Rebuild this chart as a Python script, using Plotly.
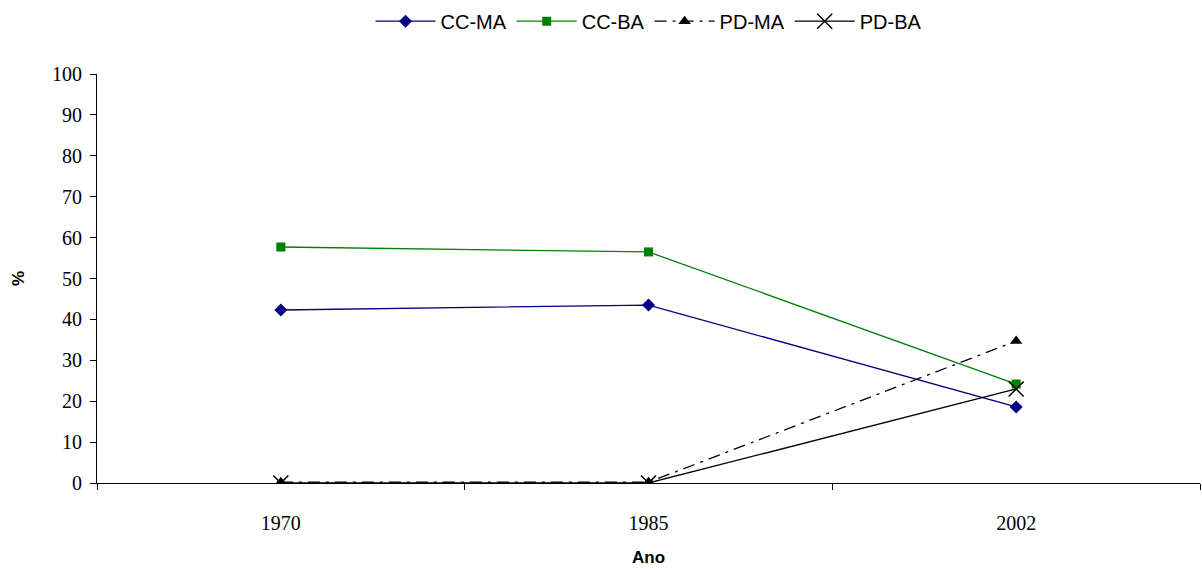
import plotly.graph_objects as go

years = ["1970", "1985", "2002"]
cc_ma = [42.3, 43.5, 18.6]
cc_ba = [57.7, 56.5, 24.2]
pd_ma = [0.2, 0.2, 34.7]
pd_ba = [0.0, 0.0, 23.0]
y_ticks = list(range(0, 101, 10))

fig = go.Figure()
fig.add_trace(go.Scatter(x=years, y=cc_ma, name="CC-MA", mode="lines+markers",
                         line=dict(color="#000080", width=1.3),
                         marker=dict(symbol="diamond", size=10, color="#000080")))
fig.add_trace(go.Scatter(x=years, y=cc_ba, name="CC-BA", mode="lines+markers",
                         line=dict(color="#008000", width=1.3),
                         marker=dict(symbol="square", size=9, color="#008000")))
fig.add_trace(go.Scatter(x=years, y=pd_ma, name="PD-MA", mode="lines+markers",
                         line=dict(color="black", width=1.3, dash="12px,6px,3px,6px"),
                         marker=dict(symbol="triangle-up", size=11, color="black")))
fig.add_trace(go.Scatter(x=years, y=pd_ba, name="PD-BA", mode="lines+markers",
                         line=dict(color="black", width=1.3),
                         marker=dict(symbol="x-thin-open", size=15,
                                     line=dict(color="black", width=1.5))))

fig.update_layout(
    width=1202, height=571,
    margin=dict(l=97, r=2, t=74, b=88),
    paper_bgcolor="white", plot_bgcolor="white",
    showlegend=True,
    legend=dict(orientation="h", x=0.5, xanchor="center", y=0.997, yanchor="top",
                yref="container", font=dict(family="Liberation Sans", size=20, color="black"),
                itemwidth=60, tracegroupgap=0),
    xaxis=dict(type="category", range=[-0.5, 2.5], tickson="boundaries",
               ticks="outside", ticklen=6, tickcolor="black",
               showline=True, linecolor="black", linewidth=1, showgrid=False,
               ticklabelstandoff=22,
               tickfont=dict(family="Liberation Serif", size=20, color="black"),
               title=dict(text="<b>Ano</b>", font=dict(family="Liberation Sans", size=17, color="black"),
                          standoff=18)),
    yaxis=dict(range=[0, 100], tickvals=y_ticks, ticks="outside", ticklen=6, tickcolor="black",
               showline=True, linecolor="black", linewidth=1, showgrid=False, zeroline=False,
               ticklabelstandoff=4,
               tickfont=dict(family="Liberation Serif", size=20, color="black"),
               title=dict(text="<b>%</b>", font=dict(family="Liberation Sans", size=17, color="black"),
                          standoff=23)),
)

fig.write_html("out.html")
